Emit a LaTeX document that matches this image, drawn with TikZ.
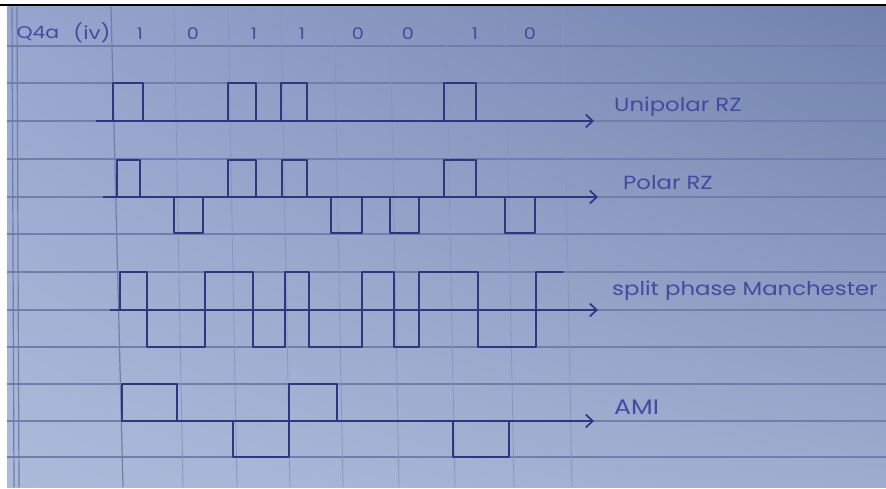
\documentclass[tikz,border=0pt]{standalone}
\usepackage{fontspec}
\newfontfamily\handfont[FakeStretch=1.2]{Poppins}
\usetikzlibrary{arrows.meta,shadings}

\definecolor{paperTL}{RGB}{150,165,205}
\definecolor{paperTR}{RGB}{112,130,172}
\definecolor{paperBL}{RGB}{172,186,218}
\definecolor{paperBR}{RGB}{158,172,207}
\definecolor{ruleblue}{RGB}{112,126,170}
\definecolor{gridblue}{RGB}{135,150,192}
\definecolor{ink}{RGB}{45,55,128}
\definecolor{pen}{RGB}{65,75,160}

\begin{document}
\begin{tikzpicture}[
  x=1pt,y=-1pt,
  font=\handfont,
  rule/.style={draw=ruleblue,line width=1.2pt},
  grid/.style={draw=gridblue,line width=0.8pt},
  wave/.style={draw=ink,line width=2pt,line join=round,line cap=round},
  axis/.style={draw=ink,line width=1.7pt,
    -{Straight Barb[length=7pt,width=13pt,line width=1.7pt]}},
  bit/.style={text=pen,font=\handfont\fontsize{16}{16}\selectfont},
  lbl/.style={text=pen,anchor=west,inner sep=0pt,
    font=\handfont\fontsize{19}{19}\selectfont},
  big/.style={lbl,font=\handfont\fontsize{21}{21}\selectfont}
]
\useasboundingbox (0,0) rectangle (886,489);
\clip (0,0) rectangle (886,489);
\fill[white] (0,0) rectangle (886,489);
% ---------------- paper ----------------
\shade[upper left=paperTL,upper right=paperTR,lower left=paperBL,lower right=paperBR]
  (7,7) rectangle (886,487);
\foreach \y in {46,83,121,159,197,234,272,310,347,384,421,457}
  \draw[rule] (7,\y) -- (886,\y);
\foreach \x in {174,228,281,334,390,446,505,563}
  \draw[grid] (\x,7) -- (\x+9,487);
\draw[rule] (111,7) -- (123,487);
\draw[rule] (12,7) -- (14,487);
\draw[rule] (17,7) -- (19,487);
\draw[black,line width=2.5pt] (0,5) -- (886,5);

% ---------------- bits ----------------
\node[bit,anchor=west,font=\handfont\fontsize{17}{17}\selectfont] (qno) at (13,34) {Q4a};
\node[bit,font=\handfont\fontsize{18}{18}\selectfont] (part) at (92,33) {(iv)};
\foreach \b/\x [count=\i] in {1/140,0/193,1/254,1/302,0/358,0/408,1/475,0/530}
  \node[bit] (bit\i) at (\x,34) {\b};

% ---------------- unipolar RZ ----------------
\coordinate (u0) at (96,121);
\coordinate (u1) at (594,121);
\node[lbl] (uni) at (614,107) {Unipolar RZ};
\draw[axis] (u0) -- (u1);
\draw[wave] (113,121) -- (113,83) -- (143,83) -- (143,121)
  (228,121) -- (228,83) -- (256,83) -- (256,121)
  (281,121) -- (281,83) -- (307,83) -- (307,121)
  (444,121) -- (444,83) -- (476,83) -- (476,121);

% ---------------- polar RZ ----------------
\coordinate (p0) at (103,197);
\coordinate (p1) at (598,197);
\node[lbl] (pol) at (623,183) {Polar RZ};
\draw[axis] (p0) -- (p1);
\draw[wave] (117,197) -- (117,160) -- (140,160) -- (140,197) -- (174,197)
  -- (174,233) -- (203,233) -- (203,197) -- (228,197) -- (228,160)
  -- (256,160) -- (256,197) -- (282,197) -- (282,160) -- (307,160)
  -- (307,197) -- (331,197) -- (331,233) -- (362,233) -- (362,197)
  -- (390,197) -- (390,233) -- (419,233) -- (419,197) -- (444,197)
  -- (444,160) -- (476,160) -- (476,197) -- (505,197) -- (505,233)
  -- (535,233) -- (535,197);

% ---------------- split phase Manchester ----------------
\coordinate (m0) at (110,310);
\coordinate (m1) at (598,310);
\node[lbl] (man) at (612,291) {split phase Manchester};
\draw[axis] (m0) -- (m1);
\draw[wave] (120,310) -- (120,272) -- (147,272) -- (147,347) -- (205,347)
  -- (205,272) -- (253,272) -- (253,347) -- (285,347) -- (285,272)
  -- (309,272) -- (309,347) -- (362,347) -- (362,272) -- (394,272)
  -- (394,347) -- (419,347) -- (419,272) -- (478,272) -- (478,347)
  -- (536,347) -- (536,272) -- (563,272);

% ---------------- AMI ----------------
\coordinate (a0) at (122,421);
\coordinate (a1) at (594,421);
\node[big] (ami) at (614,407) {AMI};
\draw[axis] (a0) -- (a1);
\draw[wave] (122,421) -- (122,384) -- (177,384) -- (177,421) -- (233,421)
  -- (233,457) -- (289,457) -- (289,384) -- (337,384) -- (337,421)
  -- (453,421) -- (453,457) -- (509,457) -- (509,421);
\end{tikzpicture}
\end{document}
